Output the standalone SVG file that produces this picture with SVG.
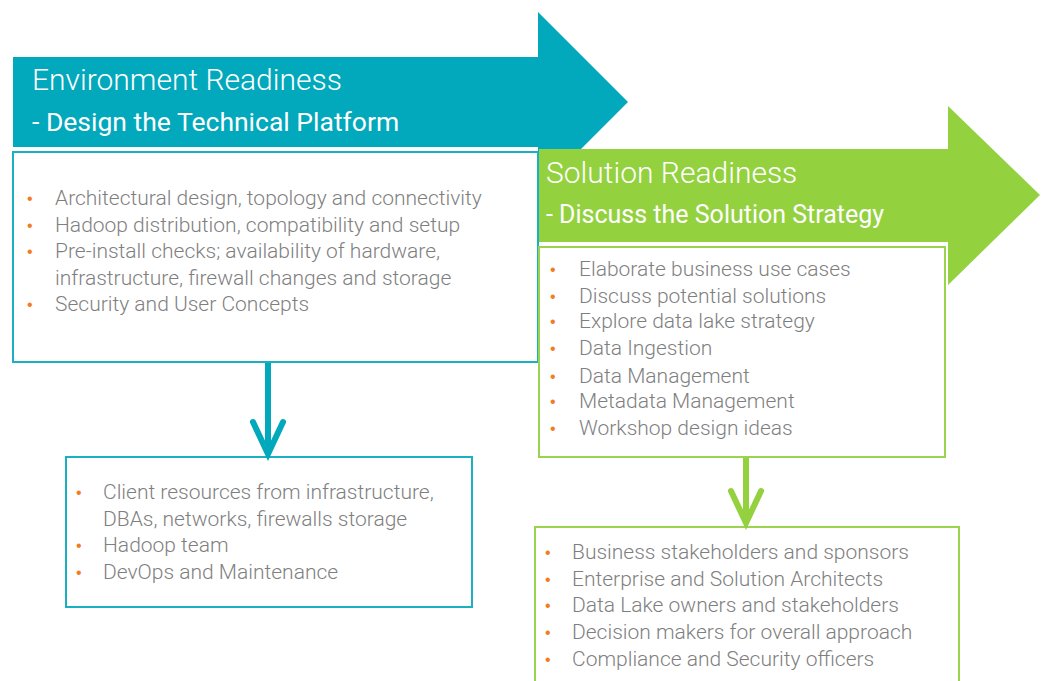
<svg xmlns="http://www.w3.org/2000/svg" width="1045" height="681" viewBox="0 0 1045 681">
<style>
.teal{fill:#02A8BB}
.green{fill:#93D13F}
.tbox{fill:#fff;stroke:#1AB0C2;stroke-width:2}
.gbox{fill:#fff;stroke:#9AD44E;stroke-width:2}
.title{font-family:Roboto,"Liberation Sans",sans-serif;font-weight:300;font-size:30px;fill:#fff}
.sub{font-family:Roboto,"Liberation Sans",sans-serif;font-weight:400;font-size:26.5px;fill:#fff}
.item{font-family:Roboto,"Liberation Sans",sans-serif;font-weight:300;font-size:21px;fill:#7F7F7F}
.bul{font-family:"Liberation Sans",sans-serif;font-size:16px;fill:#F47B20}
.tline{stroke:#02A8BB;stroke-width:6;fill:none;stroke-linecap:round;stroke-linejoin:miter}
.gline{stroke:#93D13F;stroke-width:6;fill:none;stroke-linecap:round;stroke-linejoin:miter}
</style>
<g id="env-arrow">
<polygon class="teal" points="13,57 538,57 538,12 628,102 538,192 538,147 13,147"/>
<text class="title" x="32" y="90">Environment Readiness</text>
<text class="sub" x="32" y="131">- Design the Technical Platform</text>
</g>
<g id="env-box">
<rect class="tbox" x="13" y="152" width="525" height="210"/>
<text class="bul" x="27" y="204">•</text><text class="item" x="55" y="205">Architectural design, topology and connectivity</text>
<text class="bul" x="27" y="231">•</text><text class="item" x="55" y="232">Hadoop distribution, compatibility and setup</text>
<text class="bul" x="27" y="257">•</text><text class="item" x="55" y="258">Pre-install checks; availability of hardware,</text>
<text class="item" x="55" y="285">infrastructure, firewall changes and storage</text>
<text class="bul" x="27" y="310">•</text><text class="item" x="55" y="311">Security and User Concepts</text>
</g>
<g id="sol-arrow">
<polygon class="green" points="539,149 948,149 948,106 1040,195 948,285 948,242 539,242"/>
<text class="title" x="546" y="183">Solution Readiness</text>
<text class="sub" x="546" y="223" style="font-size:25px">- Discuss the Solution Strategy</text>
</g>
<g id="sol-box">
<rect class="gbox" x="539" y="247" width="406" height="210"/>
<text class="bul" x="550" y="275">•</text><text class="item" x="579" y="276">Elaborate business use cases</text>
<text class="bul" x="550" y="302">•</text><text class="item" x="579" y="303">Discuss potential solutions</text>
<text class="bul" x="550" y="327">•</text><text class="item" x="579" y="328">Explore data lake strategy</text>
<text class="bul" x="550" y="354">•</text><text class="item" x="579" y="355">Data Ingestion</text>
<text class="bul" x="550" y="382">•</text><text class="item" x="579" y="383">Data Management</text>
<text class="bul" x="550" y="407">•</text><text class="item" x="579" y="408">Metadata Management</text>
<text class="bul" x="550" y="434">•</text><text class="item" x="579" y="435">Workshop design ideas</text>
</g>
<g id="env-resources">
<rect class="tbox" x="66" y="457" width="406" height="150"/>
<text class="bul" x="76" y="498">•</text><text class="item" x="103" y="499">Client resources from infrastructure,</text>
<text class="item" x="103" y="526">DBAs, networks, firewalls storage</text>
<text class="bul" x="76" y="551">•</text><text class="item" x="103" y="552">Hadoop team</text>
<text class="bul" x="76" y="578">•</text><text class="item" x="103" y="579">DevOps and Maintenance</text>
</g>
<g id="sol-stakeholders">
<rect class="gbox" x="535" y="527" width="424" height="170"/>
<text class="bul" x="545" y="558">•</text><text class="item" x="572" y="559">Business stakeholders and sponsors</text>
<text class="bul" x="545" y="585">•</text><text class="item" x="572" y="586">Enterprise and Solution Architects</text>
<text class="bul" x="545" y="611">•</text><text class="item" x="572" y="612">Data Lake owners and stakeholders</text>
<text class="bul" x="545" y="638">•</text><text class="item" x="572" y="639">Decision makers for overall approach</text>
<text class="bul" x="545" y="665">•</text><text class="item" x="572" y="666">Compliance and Security officers</text>
</g>
<g id="connectors">
<line class="tline" x1="268" y1="363" x2="268" y2="452" style="stroke-linecap:butt"/>
<polyline class="tline" points="253,422 268,454 283,422"/>
<line class="gline" x1="746" y1="458" x2="746" y2="521" style="stroke-linecap:butt"/>
<polyline class="gline" points="731,491 746,523 761,491"/>
</g>
</svg>
